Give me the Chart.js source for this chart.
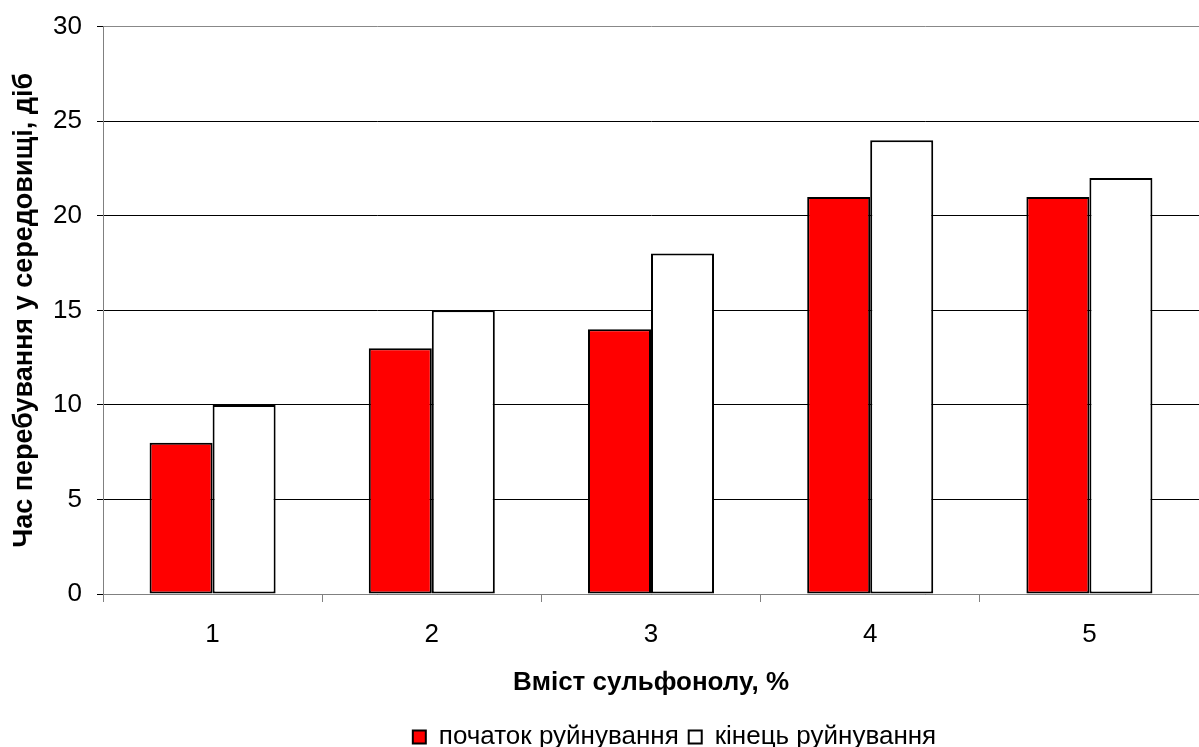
<!DOCTYPE html>
<html>
<head>
<meta charset="utf-8">
<script src="https://cdn.jsdelivr.net/npm/chart.js@4"></script>
<style>
  html, body { margin: 0; padding: 0; background: #fff; }
  #wrap { width: 1199px; height: 747px; }
</style>
</head>
<body>
<div id="wrap"><canvas id="chart" width="1199" height="747"></canvas></div>
<script>
// Дані з рисунка
const categories = ['1', '2', '3', '4', '5'];
const pochatok = [8, 13, 14, 21, 21];   // початок руйнування
const kinets = [10, 15, 18, 24, 22];    // кінець руйнування

const FONT = '"Liberation Sans", Arial, sans-serif';
const SIZE = 26;

/**
 * Легенда в оригіналі трохи зміщена вправо
 */
const legendShift = {
    id: 'legendShift',
    afterLayout(chart) {
        if (!chart.legend) return;
        chart.legend.left += 75;
        chart.legend.right += 75;
    }
};

const ctx = document.getElementById('chart');

new Chart(ctx, {
    type: 'bar',
    data: {
        labels: categories,
        datasets: [
            {
                label: 'початок руйнування',
                data: pochatok,
                backgroundColor: '#ff0000',
                borderColor: '#000',
                borderWidth: 2,
                borderSkipped: false
            },
            {
                label: 'кінець руйнування',
                data: kinets,
                backgroundColor: '#ffffff',
                borderColor: '#000',
                borderWidth: 2,
                borderSkipped: false
            }
        ]
    },
    plugins: [legendShift],
    options: {
        responsive: false,
        animation: false,
        events: [],
        datasets: {
            bar: { barPercentage: 1, categoryPercentage: 0.575 }
        },
        layout: { padding: { top: 25, right: 0, left: 0, bottom: -13 } },
        plugins: {
            tooltip: { enabled: false },
            legend: {
                position: 'bottom',
                labels: {
                    font: { family: FONT, size: SIZE },
                    color: '#000',
                    boxWidth: 13,
                    boxHeight: 13,
                    padding: 10
                }
            }
        },
        scales: {
            x: {
                grid: {
                    display: true,
                    drawOnChartArea: false,
                    drawTicks: true,
                    tickLength: 8,
                    color: '#808080'
                },
                border: { color: '#808080', width: 1 },
                ticks: {
                    font: { family: FONT, size: SIZE },
                    color: '#000',
                    padding: 17
                },
                title: {
                    display: true,
                    text: 'Вміст сульфонолу, %',
                    font: { family: FONT, size: SIZE, weight: 'bold' },
                    color: '#000',
                    padding: { top: 0, bottom: 16 }
                },
                afterFit: (scale) => { scale.height = 120; }
            },
            y: {
                min: 0,
                max: 30,
                ticks: {
                    stepSize: 5,
                    font: { family: FONT, size: SIZE, lineHeight: 0.9 },
                    color: '#000',
                    padding: 15
                },
                grid: {
                    color: (c) => (c.tick && c.tick.value === 30) ? '#888' : '#000',
                    tickLength: 6,
                    tickColor: '#000'
                },
                border: { color: '#808080', width: 1 },
                title: {
                    display: true,
                    text: 'Час перебування у середовищі, діб',
                    font: { family: FONT, size: 27, weight: 'bold' },
                    color: '#000',
                    padding: { top: 8, bottom: 0 }
                },
                afterFit: (scale) => { scale.width = 103; }
            }
        }
    }
});
</script>
</body>
</html>
